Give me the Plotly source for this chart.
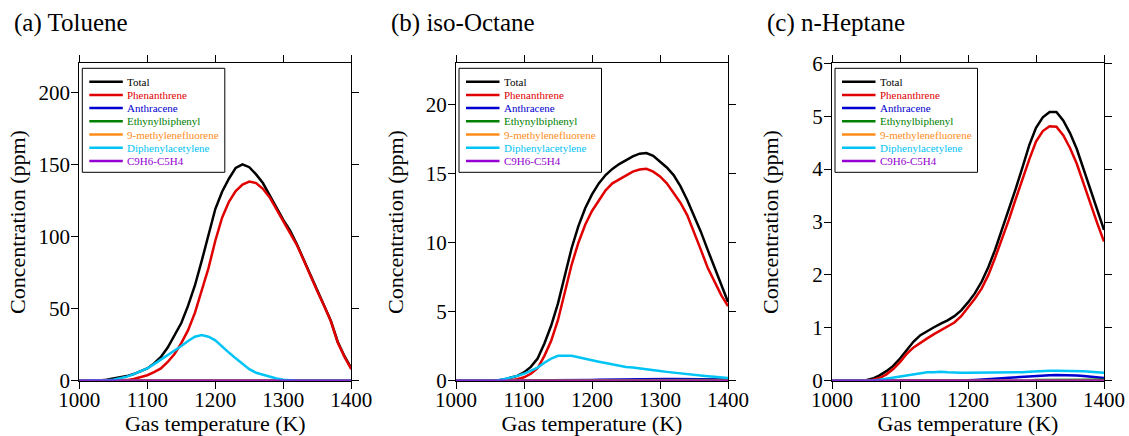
import plotly.graph_objects as go

# ---------------- data ----------------
SERIES_NAMES = ["Total", "Phenanthrene", "Anthracene", "Ethynylbiphenyl",
                "9-methylenefluorene", "Diphenylacetylene", "C9H6-C5H4"]
SERIES_COLORS = ["#000000", "#e00000", "#0000d0", "#008000",
                 "#ff8c1a", "#00c4f5", "#9400d3"]
PANEL_TITLES = ["(a) Toluene", "(b) iso-Octane", "(c) n-Heptane"]
X_TICKS = [1000, 1100, 1200, 1300, 1400]
Y_TICKS_A = [0, 50, 100, 150, 200]
Y_TICKS_B = [0, 5, 10, 15, 20]
Y_TICKS_C = [0, 1, 2, 3, 4, 5, 6]
Y_RANGES = [[0, 220], [0, 23], [0, 6]]

T = [1000, 1010, 1020, 1030, 1040, 1050, 1060, 1070, 1080, 1090,
     1100, 1110, 1120, 1130, 1140, 1150, 1160, 1170, 1180, 1190,
     1200, 1210, 1220, 1230, 1240, 1250, 1260, 1270, 1280, 1290,
     1300, 1310, 1320, 1330, 1340, 1350, 1360, 1370, 1380, 1390, 1400]
T_ENDS = [1000, 1400]
ZERO_ENDS = [0, 0]

# (a) Toluene
TOL_TOTAL = [0, 0, 0, 0.2, 0.6, 1.3, 2.2, 3.2, 4.6, 6.3,
             8.5, 12, 16.5, 23, 31, 40, 52, 66, 83, 101,
             119, 131, 140, 147.5, 150, 148, 143, 137, 129, 120,
             111.5, 104, 94.5, 84, 73, 62.5, 52.5, 41.5, 27, 17, 8.5]
TOL_PHEN = [0, 0, 0, 0, 0, 0, 0.2, 0.4, 1.2, 2.3,
            3.8, 6, 8.5, 13, 18.5, 26, 35, 47, 62, 78,
            97, 113, 124, 131.5, 136, 138, 137, 133, 127, 119,
            111, 103, 94, 83.5, 72.5, 62, 52, 41, 26.5, 16.5, 8]
TOL_ANTH = [0, 0, 0, 0, 0, 0, 0, 0, 0, 0,
            0, 0, 0, 0, 0, 0, 0, 0, 0, 0,
            0, 0.3, 0.4, 0.45, 0.5, 0.5, 0.5, 0.45, 0.35, 0.2,
            0.05, 0, 0, 0, 0, 0, 0, 0, 0, 0, 0]
TOL_DIPH = [0, 0, 0, 0.1, 0.3, 0.6, 1.5, 2.8, 4.5, 6.3,
            8.5, 11.5, 14.5, 17.5, 20.5, 24, 27.5, 30.5, 31.7, 30.5,
            28, 23.5, 19.5, 15.5, 11.5, 8, 5.5, 4, 2.8, 1.5,
            0.6, 0.1, 0, 0, 0, 0, 0, 0, 0, 0, 0]

# (b) iso-Octane
ISO_TOTAL = [0, 0, 0, 0, 0, 0, 0.02, 0.08, 0.2, 0.35,
             0.6, 1.0, 1.6, 2.7, 4.0, 5.6, 7.6, 9.6, 11.2, 12.5,
             13.5, 14.3, 14.9, 15.35, 15.7, 16.0, 16.25, 16.45, 16.5, 16.3,
             15.9, 15.45, 14.9, 14.1, 13.1, 12.0, 10.8, 9.5, 8.2, 6.9, 5.7]
ISO_PHEN = [0, 0, 0, 0, 0, 0, 0, 0, 0.03, 0.1,
            0.25, 0.5, 0.9, 1.8, 2.9, 4.4, 6.4, 8.4, 10.0, 11.3,
            12.3, 13.1, 13.8, 14.3, 14.6, 14.9, 15.15, 15.3, 15.35, 15.15,
            14.8, 14.3, 13.6, 12.9, 12.0, 10.8, 9.5, 8.2, 7.2, 6.2, 5.4]
ISO_ANTH = [0, 0, 0, 0, 0, 0, 0, 0, 0, 0,
            0, 0, 0, 0, 0, 0, 0.02, 0.03, 0.04, 0.05,
            0.05, 0.06, 0.07, 0.08, 0.1, 0.11, 0.12, 0.12, 0.12, 0.12,
            0.12, 0.12, 0.12, 0.12, 0.12, 0.11, 0.11, 0.1, 0.1, 0.09, 0.08]
ISO_ETHY_T = [1000, 1300, 1340, 1400]
ISO_ETHY = [0, 0, 0.03, 0.05]
ISO_DIPH = [0, 0, 0, 0, 0, 0, 0.02, 0.1, 0.2, 0.35,
            0.5, 0.7, 0.95, 1.3, 1.6, 1.8, 1.8, 1.8, 1.7, 1.58,
            1.48, 1.38, 1.28, 1.18, 1.08, 1.0, 0.95, 0.9, 0.83, 0.76,
            0.7, 0.64, 0.58, 0.52, 0.47, 0.42, 0.37, 0.33, 0.28, 0.24, 0.2]

# (c) n-Heptane
HEP_TOTAL = [0, 0, 0, 0, 0, 0.01, 0.04, 0.1, 0.18, 0.28,
             0.42, 0.59, 0.74, 0.86, 0.94, 1.01, 1.08, 1.14, 1.22, 1.33,
             1.48, 1.65, 1.87, 2.15, 2.48, 2.85, 3.23, 3.62, 4.03, 4.45,
             4.78, 4.98, 5.08, 5.08, 4.92, 4.68, 4.38, 4.0, 3.6, 3.22, 2.85]
HEP_PHEN = [0, 0, 0, 0, 0, 0, 0.02, 0.05, 0.12, 0.22,
            0.35, 0.51, 0.63, 0.72, 0.8, 0.88, 0.95, 1.02, 1.1, 1.22,
            1.38, 1.55, 1.74, 2.0, 2.33, 2.68, 3.04, 3.43, 3.82, 4.18,
            4.52, 4.72, 4.81, 4.8, 4.64, 4.4, 4.1, 3.72, 3.35, 2.98, 2.63]
HEP_ANTH = [0, 0, 0, 0, 0, 0, 0, 0, 0, 0,
            0, 0, 0, 0, 0, 0, 0, 0, 0, 0,
            0.01, 0.015, 0.02, 0.025, 0.035, 0.045, 0.055, 0.065, 0.075, 0.085,
            0.09, 0.1, 0.105, 0.11, 0.11, 0.105, 0.1, 0.09, 0.08, 0.065, 0.05]
HEP_ETHY_T = [1000, 1290, 1300, 1400]
HEP_ETHY = [0, 0, 0.015, 0.02]
HEP_DIPH = [0, 0, 0, 0, 0, 0, 0.005, 0.02, 0.04, 0.06,
            0.09, 0.11, 0.13, 0.15, 0.16, 0.16, 0.17, 0.16, 0.15, 0.15,
            0.15, 0.15, 0.15, 0.15, 0.155, 0.155, 0.16, 0.16, 0.16, 0.17,
            0.18, 0.19, 0.19, 0.19, 0.19, 0.19, 0.19, 0.18, 0.17, 0.16, 0.15]

PANELS = [
    [(T, TOL_TOTAL), (T, TOL_PHEN), (T, TOL_ANTH), (T_ENDS, ZERO_ENDS),
     (T_ENDS, ZERO_ENDS), (T, TOL_DIPH), (T_ENDS, ZERO_ENDS)],
    [(T, ISO_TOTAL), (T, ISO_PHEN), (T, ISO_ANTH), (ISO_ETHY_T, ISO_ETHY),
     (T_ENDS, ZERO_ENDS), (T, ISO_DIPH), (T_ENDS, ZERO_ENDS)],
    [(T, HEP_TOTAL), (T, HEP_PHEN), (T, HEP_ANTH), (HEP_ETHY_T, HEP_ETHY),
     (T_ENDS, ZERO_ENDS), (T, HEP_DIPH), (T_ENDS, ZERO_ENDS)],
]
Y_TICKS = [Y_TICKS_A, Y_TICKS_B, Y_TICKS_C]

# ---------------- layout constants ----------------
W, H = 1129, 436
FONT = "Liberation Serif"
X_DOMAINS = [[79.3 / W, 351.3 / W], [456 / W, 728 / W], [832 / W, 1104 / W]]
Y_DOMAIN = [1 - 380.7 / H, 1 - 63.3 / H]
TITLE_X = [12 / W, 389 / W, 765 / W]
Y_TITLE_STANDOFF = [6, 16, 27]

fig = go.Figure()
for p, series in enumerate(PANELS):
    sfx = "" if p == 0 else str(p + 1)
    for (xs, ys), name, color in zip(series, SERIES_NAMES, SERIES_COLORS):
        fig.add_trace(go.Scatter(x=xs, y=ys, mode="lines", name=name,
                                 line=dict(color=color, width=2.5),
                                 showlegend=False,
                                 xaxis="x" + sfx, yaxis="y" + sfx))

axis_common = dict(showline=True, linecolor="black", linewidth=1,
                   mirror="ticks", ticks="outside", ticklen=7,
                   tickcolor="black", showgrid=False, zeroline=False,
                   automargin=False,
                   tickfont=dict(family=FONT, size=21, color="black"))
layout = dict(width=W, height=H,
              margin=dict(l=0, r=0, t=0, b=0, pad=0, autoexpand=False),
              paper_bgcolor="white", plot_bgcolor="white",
              showlegend=False, font=dict(family=FONT, color="black"))
for p in range(3):
    sfx = "" if p == 0 else str(p + 1)
    layout["xaxis" + sfx] = dict(
        axis_common, domain=X_DOMAINS[p], range=[1000, 1400],
        tickvals=X_TICKS, anchor="y" + sfx, ticklabelstandoff=-7,
        title=dict(text="Gas temperature (K)", standoff=13,
                   font=dict(family=FONT, size=22, color="black")))
    layout["yaxis" + sfx] = dict(
        axis_common, domain=Y_DOMAIN, range=Y_RANGES[p],
        tickvals=Y_TICKS[p], anchor="x" + sfx, ticklabelstandoff=-3,
        title=dict(text="Concentration (ppm)", standoff=Y_TITLE_STANDOFF[p],
                   font=dict(family=FONT, size=22, color="black")))
fig.update_layout(**layout)

# panel titles
for p in range(3):
    fig.add_annotation(text=PANEL_TITLES[p], xref="paper", yref="paper",
                       x=TITLE_X[p], y=1 - 23 / H, xanchor="left",
                       yanchor="middle", showarrow=False,
                       font=dict(family=FONT, size=25, color="black"))

# legends (one box per panel, drawn in each axis' domain coordinates)
PLOT_W, PLOT_H = 272.0, 317.4
for p in range(3):
    sfx = "" if p == 0 else str(p + 1)
    xr, yr = "x" + sfx + " domain", "y" + sfx + " domain"
    fig.add_shape(type="rect", xref=xr, yref=yr,
                  x0=3 / PLOT_W, x1=145.5 / PLOT_W,
                  y0=(380.7 - 172.3) / PLOT_H, y1=(380.7 - 68.3) / PLOT_H,
                  line=dict(color="black", width=1), fillcolor="white",
                  layer="below")
    for i, (name, color) in enumerate(zip(SERIES_NAMES, SERIES_COLORS)):
        yy = (380.7 - (81.7 + i * 13.2)) / PLOT_H
        fig.add_shape(type="line", xref=xr, yref=yr,
                      x0=10 / PLOT_W, x1=43.5 / PLOT_W, y0=yy, y1=yy,
                      line=dict(color=color, width=2.5))
        fig.add_annotation(text=name, xref=xr, yref=yr,
                           x=45.5 / PLOT_W, y=yy, xanchor="left",
                           yanchor="middle", showarrow=False,
                           font=dict(family=FONT, size=11, color=color))

fig.write_html("out.html",
               post_script="document.body.style.margin='0';"
                           "document.body.style.overflow='hidden';")
